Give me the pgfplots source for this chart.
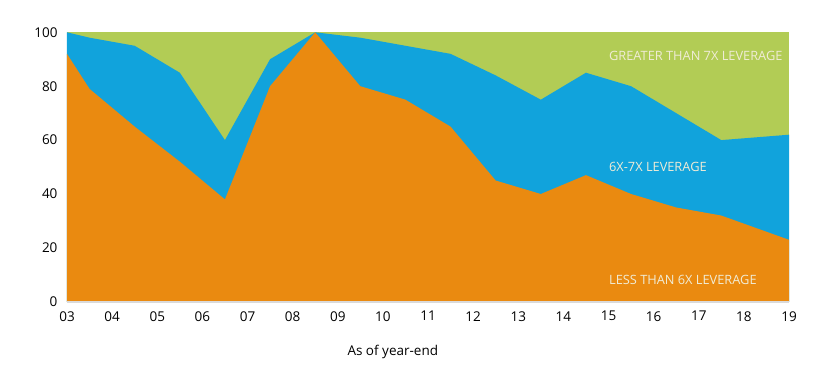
\documentclass[border=0pt]{standalone}
\usepackage{fontspec}
\setmainfont{Open Sans}
\usepackage{pgfplots}
\pgfplotsset{compat=1.18}
\usetikzlibrary{calc}
\definecolor{cOrange}{HTML}{EA8A10}
\definecolor{cBlue}{HTML}{11A3DC}
\definecolor{cGreen}{HTML}{B2CC55}
\definecolor{cLab}{HTML}{F0ECD6}
\definecolor{cAxis}{HTML}{DADADA}
\begin{document}
\begin{tikzpicture}
\begin{axis}[
  scale only axis,
  width=722pt, height=269.5pt,
  xmin=0, xmax=16, ymin=0, ymax=100,
  axis x line*=bottom,
  axis y line*=left,
  x axis line style={draw=cAxis, line width=1.5pt, -},
  y axis line style={draw=none, -},
  xtick={0,1,...,16},
  xticklabels={03,04,05,06,07,08,09,10,11,12,13,14,15,16,17,18,19},
  ytick={0,20,...,100},
  major tick length=0pt,
  tick style={draw=none},
  ticklabel style={font=\fontsize{13.5}{15}\selectfont, text=black},
  /pgf/number format/assume math mode=true,
  xticklabel style={yshift=-6pt},
  yticklabel style={xshift=-6pt},
  clip=false,
  axis on top,
]
\addplot[fill=cGreen, draw=none] coordinates {(0,100) (16,100)} \closedcycle;
\addplot[fill=cBlue, draw=none] coordinates {
(0,100) (0.5,98) (1.5,95) (2.5,85) (3.5,60) (4.5,90) (5.5,100) (6.5,98) (7.5,95) (8.5,92) (9.5,84) (10.5,75) (11.5,85) (12.5,80) (13.5,70) (14.5,60) (16,62)} \closedcycle;
\addplot[fill=cOrange, draw=none] coordinates {
(0,92) (0.5,79) (1.5,65) (2.5,52) (3.5,38) (4.5,80) (5.5,100) (6.5,80) (7.5,75) (8.5,65) (9.5,45) (10.5,40) (11.5,47) (12.5,40) (13.5,35) (14.5,32) (16,23)} \closedcycle;
\node[anchor=west, text=cLab, font=\fontsize{12.8}{14}\selectfont, inner sep=0pt] at (axis cs:12.01,91.3) {GREATER THAN 7X LEVERAGE};
\node[anchor=west, text=cLab, font=\fontsize{12.8}{14}\selectfont, inner sep=0pt] at (axis cs:12.01,49.9) {6X-7X LEVERAGE};
\node[anchor=west, text=cLab, font=\fontsize{12.8}{14}\selectfont, inner sep=0pt] at (axis cs:12.01,8.3) {LESS THAN 6X LEVERAGE};
\node[font=\fontsize{13.5}{15}\selectfont, inner sep=0pt] at ($(axis cs:7.22,0)+(0,-50pt)$) {As of year-end};
\coordinate (bl) at (rel axis cs:0,0);
\coordinate (tr) at (rel axis cs:1,1);
\end{axis}
\pgfresetboundingbox
\path[use as bounding box] ($(bl)+(-67pt,-83.3pt)$) rectangle ($(tr)+(31pt,32.3pt)$);
\end{tikzpicture}
\end{document}
